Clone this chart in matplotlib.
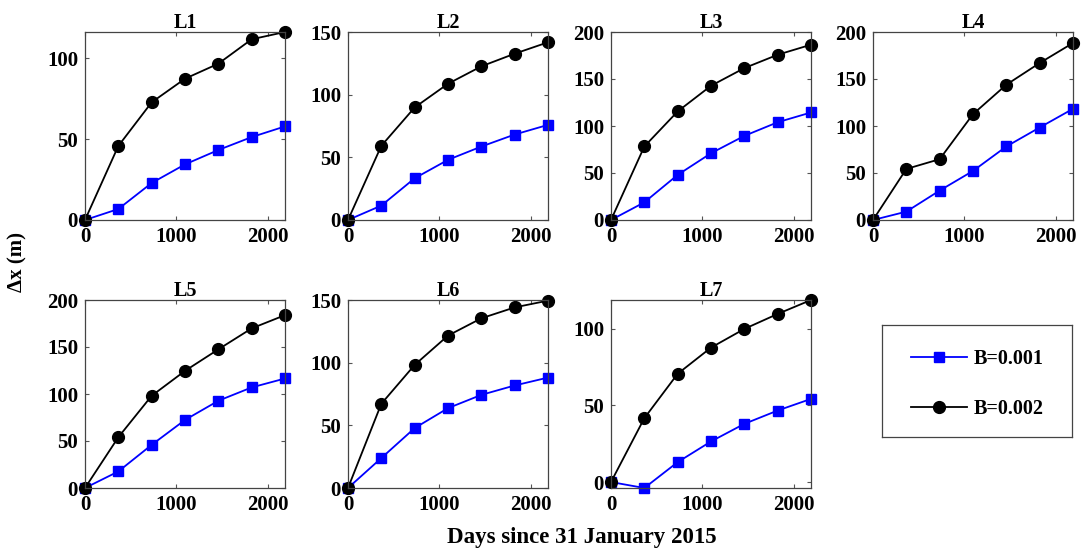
#!/usr/bin/env python3

import matplotlib
matplotlib.use('Agg')
import matplotlib.pyplot as plt

# Days since 31 January 2015
days = [0, 365, 730, 1095, 1460, 1825, 2190]

names = ['L1', 'L2', 'L3', 'L4', 'L5', 'L6', 'L7']

# displacement (m) for B=0.001
b001 = [
    [0, 6.8, 22.9, 34.4, 43.3, 51.3, 57.9],
    [0, 11.5, 33.3, 48.0, 58.6, 68.2, 75.9],
    [0, 18.8, 48.0, 71.0, 89.5, 104.0, 114.4],
    [0, 8.9, 31.3, 52.2, 78.2, 98.4, 118.3],
    [0, 17.6, 45.9, 72.4, 92.8, 107.0, 116.5],
    [0, 23.9, 47.8, 63.7, 74.3, 81.8, 88.1],
    [0, -3.9, 13.0, 26.5, 38.0, 46.7, 54.3],
]

# displacement (m) for B=0.002
b002 = [
    [0, 45.8, 72.8, 87.4, 96.7, 111.8, 116.3],
    [0, 59.2, 89.8, 108.7, 122.6, 132.7, 141.8],
    [0, 78.2, 115.5, 142.8, 161.6, 175.8, 186.5],
    [0, 54.3, 64.7, 112.6, 143.9, 167.0, 188.3],
    [0, 54.0, 98.1, 124.6, 147.5, 169.8, 183.9],
    [0, 67.2, 98.2, 121.6, 135.4, 144.1, 149.5],
    [0, 41.7, 70.7, 87.8, 100.0, 109.8, 118.9],
]

labels = ['B=0.001', 'B=0.002']

# y-axis upper limits (None = tight to data, like matlab)
ytops = [None, 150, 200, 200, 200, 150, None]
yticks = [[0, 50, 100], [0, 50, 100, 150], [0, 50, 100, 150, 200],
          [0, 50, 100, 150, 200], [0, 50, 100, 150, 200],
          [0, 50, 100, 150], [0, 50, 100]]

W, H = 1081, 549
plt.rcParams['font.family'] = ['Liberation Serif', 'DejaVu Serif']
plt.rcParams['font.weight'] = 'bold'
plt.rcParams['font.size'] = 15

fig = plt.figure(figsize=(W / 100, H / 100), dpi=100)

# axes boxes in pixels: left, top
lefts = [85, 348, 611, 873, 85, 348, 611]
tops = [32, 32, 32, 32, 300, 300, 300]
aw, ah = 200, 188

handles = None
for i in range(7):
    ax = fig.add_axes([lefts[i] / W, 1 - (tops[i] + ah) / H, aw / W, ah / H])
    l1, = ax.plot(days, b001[i], '-s', color='#0000ff', lw=1.3, ms=7.5,
                  mfc='#0000ff', mec='#0000ff')
    l2, = ax.plot(days, b002[i], '-o', color='black', lw=1.3, ms=8.5)
    handles = [l1, l2]
    ax.set_xlim(0, days[-1])
    lo = min(min(b001[i]), min(b002[i]))
    hi = ytops[i] if ytops[i] is not None else max(max(b001[i]), max(b002[i]))
    ax.set_ylim(lo, hi)
    for m in (l1, l2):
        m.set_clip_on(False)
    ax.set_xticks([0, 1000, 2000])
    ax.set_yticks(yticks[i])
    ax.tick_params(direction='in', top=True, right=True, length=3,
                   width=0.8, color='#555555', pad=5)
    for s in ax.spines.values():
        s.set_color('#444444')
        s.set_linewidth(0.9)
    ax.set_title(names[i], fontweight='bold', fontsize=14.5, pad=3)

# legend in its own box
lax = fig.add_axes([882 / W, 1 - 437 / H, 190 / W, 112 / H])
lax.set_xticks([])
lax.set_yticks([])
for s in lax.spines.values():
    s.set_color('#444444')
    s.set_linewidth(0.9)
lax.legend(handles, labels, loc='center', frameon=False, handlelength=2.8,
           labelspacing=1.5, handletextpad=0.3, fontsize=14.5,
           bbox_to_anchor=(0.5, 0.47))

fig.text(17 / W, 1 - 262 / H, 'Δx (m)', rotation=90,
         ha='center', va='center', fontweight='bold')
fig.text(582 / W, 1 - 537 / H, 'Days since 31 January 2015',
         ha='center', va='center', fontweight='bold', fontsize=16.5)

fig.savefig('out.png', dpi=100)
